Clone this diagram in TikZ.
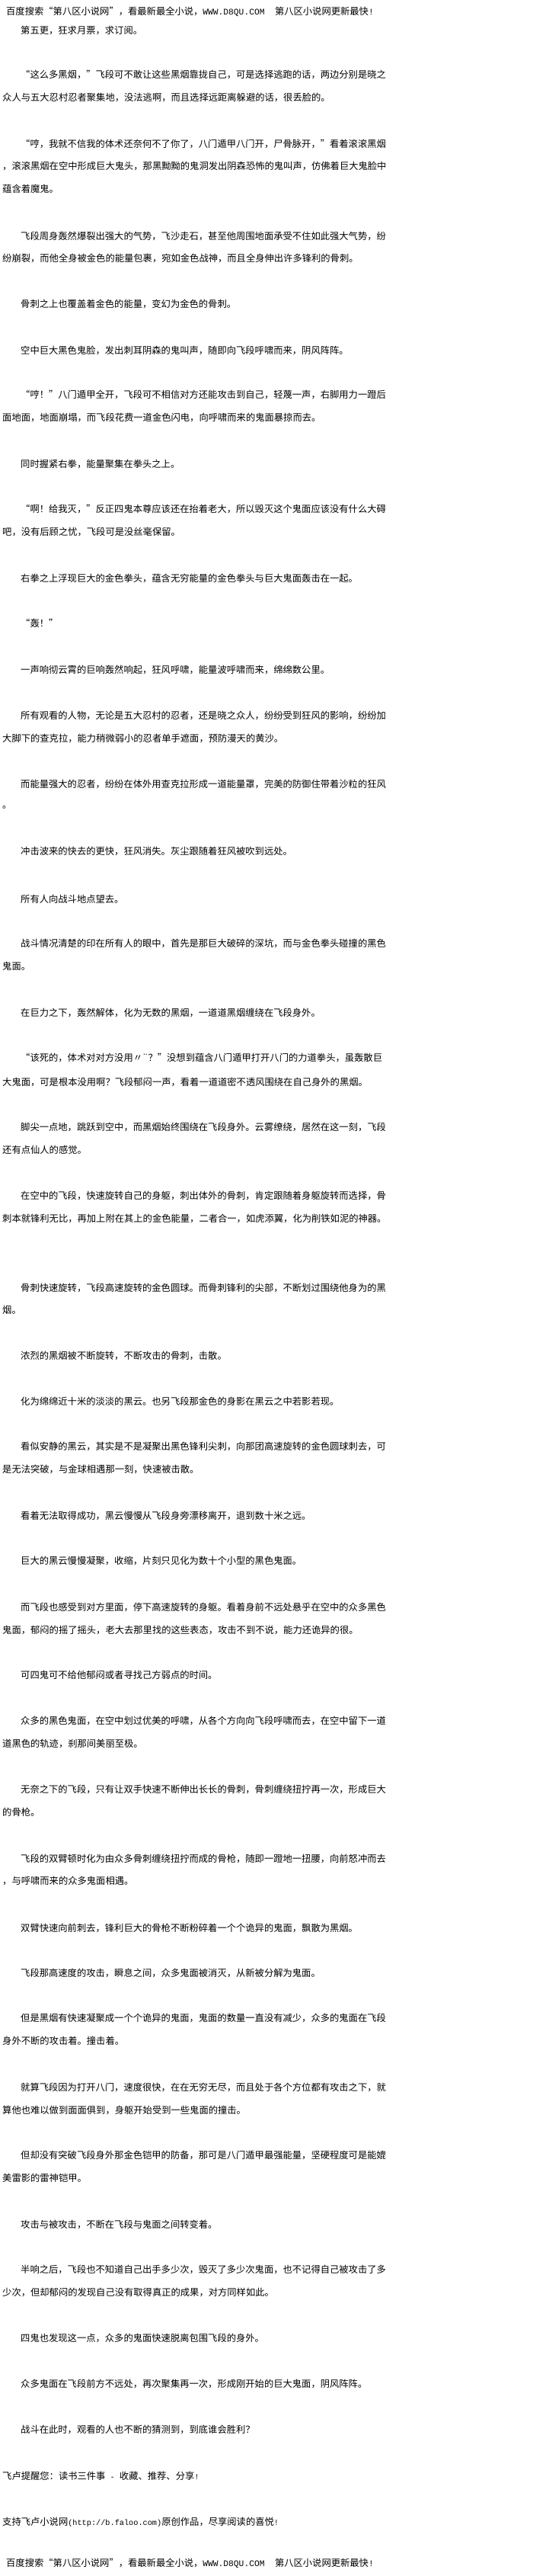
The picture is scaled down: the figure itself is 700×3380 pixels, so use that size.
\documentclass[tikz,border=0pt]{standalone}
\usepackage{fontspec}
\newfontfamily\cjkfont{Noto Sans CJK SC}
\newfontfamily\ascfont{Liberation Mono}
\newcommand{\ascbig}[1]{{\ascfont\fontsize{11.25}{14}\selectfont #1}}
\newcommand{\ascsmall}[1]{{\ascfont\fontsize{10.25}{14}\selectfont #1}}

\begin{document}
\begin{tikzpicture}[x=1pt, y=-1pt,
	txt/.style = { anchor=west, inner sep=0pt, text=black,
	font=\cjkfont\fontsize{12.3}{14}\selectfont } ]

  \useasboundingbox [fill=white] (0,0) rectangle (700,3380);

  \node [name=head, txt] at (8,15) {百度搜索“第八区小说网”，看最新最全小说，\ascbig{WWW.D8QU.COM\ \ }第八区小说网更新最快\ascbig{!}};
  \node [name=title, txt] at (27,40) {第五更，狂求月票，求订阅。};

  \node [name=l1, txt] at (27,98) {“这么多黑烟，”飞段可不敢让这些黑烟靠拢自己，可是选择逃跑的话，两边分别是晓之};
  \node [name=l2, txt] at (3,128) {众人与五大忍村忍者聚集地，没法逃啊，而且选择远距离躲避的话，很丢脸的。};
  \node [name=l3, txt] at (27,189) {“哼，我就不信我的体术还奈何不了你了，八门遁甲八门开，尸骨脉开，”看着滚滚黑烟};
  \node [name=l4, txt] at (3,218) {，滚滚黑烟在空中形成巨大鬼头，那黑黝黝的鬼洞发出阴森恐怖的鬼叫声，仿佛着巨大鬼脸中};
  \node [name=l5, txt] at (3,248) {蕴含着魔鬼。};
  \node [name=l6, txt] at (27,310) {飞段周身轰然爆裂出强大的气势，飞沙走石，甚至他周围地面承受不住如此强大气势，纷};
  \node [name=l7, txt] at (3,339) {纷崩裂，而他全身被金色的能量包裹，宛如金色战神，而且全身伸出许多锋利的骨刺。};
  \node [name=l8, txt] at (27,399) {骨刺之上也覆盖着金色的能量，变幻为金色的骨刺。};
  \node [name=l9, txt] at (27,460) {空中巨大黑色鬼脸，发出刺耳阴森的鬼叫声，随即向飞段呼啸而来，阴风阵阵。};
  \node [name=l10, txt] at (27,518) {“哼！”八门遁甲全开，飞段可不相信对方还能攻击到自己，轻蔑一声，右脚用力一蹬后};
  \node [name=l11, txt] at (3,548) {面地面，地面崩塌，而飞段花费一道金色闪电，向呼啸而来的鬼面暴掠而去。};
  \node [name=l12, txt] at (27,609) {同时握紧右拳，能量聚集在拳头之上。};
  \node [name=l13, txt] at (27,668) {“啊！给我灭，”反正四鬼本尊应该还在抬着老大，所以毁灭这个鬼面应该没有什么大碍};
  \node [name=l14, txt] at (3,698) {吧，没有后顾之忧，飞段可是没丝毫保留。};
  \node [name=l15, txt] at (27,759) {右拳之上浮现巨大的金色拳头，蕴含无穷能量的金色拳头与巨大鬼面轰击在一起。};
  \node [name=l16, txt] at (27,818) {“轰！”};
  \node [name=l17, txt] at (27,879) {一声响彻云霄的巨响轰然响起，狂风呼啸，能量波呼啸而来，绵绵数公里。};
  \node [name=l18, txt] at (27,939) {所有观看的人物，无论是五大忍村的忍者，还是晓之众人，纷纷受到狂风的影响，纷纷加};
  \node [name=l19, txt] at (3,969) {大脚下的查克拉，能力稍微弱小的忍者单手遮面，预防漫天的黄沙。};
  \node [name=l20, txt] at (27,1029) {而能量强大的忍者，纷纷在体外用查克拉形成一道能量罩，完美的防御住带着沙粒的狂风};
  \node [name=l21, txt] at (3,1059) {。};
  \node [name=l22, txt] at (27,1117) {冲击波来的快去的更快，狂风消失。灰尘跟随着狂风被吹到远处。};
  \node [name=l23, txt] at (27,1180) {所有人向战斗地点望去。};
  \node [name=l24, txt] at (27,1238) {战斗情况清楚的印在所有人的眼中，首先是那巨大破碎的深坑，而与金色拳头碰撞的黑色};
  \node [name=l25, txt] at (3,1268) {鬼面。};
  \node [name=l26, txt] at (27,1329) {在巨力之下，轰然解体，化为无数的黑烟，一道道黑烟缠绕在飞段身外。};
  \node [name=l27, txt] at (27,1388) {“该死的，体术对对方没用〃¨？”没想到蕴含八门遁甲打开八门的力道拳头，虽轰散巨};
  \node [name=l28, txt] at (3,1420) {大鬼面，可是根本没用啊？飞段郁闷一声，看着一道道密不透风围绕在自己身外的黑烟。};
  \node [name=l29, txt] at (27,1479) {脚尖一点地，跳跃到空中，而黑烟始终围绕在飞段身外。云雾缭绕，居然在这一刻，飞段};
  \node [name=l30, txt] at (3,1509) {还有点仙人的感觉。};
  \node [name=l31, txt] at (27,1569) {在空中的飞段，快速旋转自己的身躯，刺出体外的骨刺，肯定跟随着身躯旋转而选择，骨};
  \node [name=l32, txt] at (3,1599) {刺本就锋利无比，再加上附在其上的金色能量，二者合一，如虎添翼，化为削铁如泥的神器。};
  \node [name=l33, txt] at (27,1690) {骨刺快速旋转，飞段高速旋转的金色圆球。而骨刺锋利的尖部，不断划过围绕他身为的黑};
  \node [name=l34, txt] at (3,1719) {烟。};
  \node [name=l35, txt] at (27,1779) {浓烈的黑烟被不断旋转，不断攻击的骨刺，击散。};
  \node [name=l36, txt] at (27,1839) {化为绵绵近十米的淡淡的黑云。也另飞段那金色的身影在黑云之中若影若现。};
  \node [name=l37, txt] at (27,1898) {看似安静的黑云，其实是不是凝聚出黑色锋利尖刺，向那团高速旋转的金色圆球刺去，可};
  \node [name=l38, txt] at (3,1928) {是无法突破，与金球相遇那一刻，快速被击散。};
  \node [name=l39, txt] at (27,1989) {看着无法取得成功，黑云慢慢从飞段身旁漂移离开，退到数十米之远。};
  \node [name=l40, txt] at (27,2048) {巨大的黑云慢慢凝聚，收缩，片刻只见化为数十个小型的黑色鬼面。};
  \node [name=l41, txt] at (27,2109) {而飞段也感受到对方里面，停下高速旋转的身躯。看着身前不远处悬乎在空中的众多黑色};
  \node [name=l42, txt] at (3,2139) {鬼面，郁闷的摇了摇头，老大去那里找的这些表态，攻击不到不说，能力还诡异的很。};
  \node [name=l43, txt] at (27,2198) {可四鬼可不给他郁闷或者寻找己方弱点的时间。};
  \node [name=l44, txt] at (27,2258) {众多的黑色鬼面，在空中划过优美的呼啸，从各个方向向飞段呼啸而去，在空中留下一道};
  \node [name=l45, txt] at (3,2288) {道黑色的轨迹，刹那间美丽至极。};
  \node [name=l46, txt] at (27,2348) {无奈之下的飞段，只有让双手快速不断伸出长长的骨刺，骨刺缠绕扭拧再一次，形成巨大};
  \node [name=l47, txt] at (3,2378) {的骨枪。};
  \node [name=l48, txt] at (27,2439) {飞段的双臂顿时化为由众多骨刺缠绕扭拧而成的骨枪，随即一蹬地一扭腰，向前怒冲而去};
  \node [name=l49, txt] at (3,2468) {，与呼啸而来的众多鬼面相遇。};
  \node [name=l50, txt] at (27,2530) {双臂快速向前刺去，锋利巨大的骨枪不断粉碎着一个个诡异的鬼面，飘散为黑烟。};
  \node [name=l51, txt] at (27,2589) {飞段那高速度的攻击，瞬息之间，众多鬼面被消灭，从新被分解为鬼面。};
  \node [name=l52, txt] at (27,2648) {但是黑烟有快速凝聚成一个个诡异的鬼面，鬼面的数量一直没有减少，众多的鬼面在飞段};
  \node [name=l53, txt] at (3,2678) {身外不断的攻击着。撞击着。};
  \node [name=l54, txt] at (27,2739) {就算飞段因为打开八门，速度很快，在在无穷无尽，而且处于各个方位都有攻击之下，就};
  \node [name=l55, txt] at (3,2769) {算他也难以做到面面俱到，身躯开始受到一些鬼面的撞击。};
  \node [name=l56, txt] at (27,2828) {但却没有突破飞段身外那金色铠甲的防备，那可是八门遁甲最强能量，坚硬程度可是能媲};
  \node [name=l57, txt] at (3,2858) {美雷影的雷神铠甲。};
  \node [name=l58, txt] at (27,2919) {攻击与被攻击，不断在飞段与鬼面之间转变着。};
  \node [name=l59, txt] at (27,2978) {半响之后，飞段也不知道自己出手多少次，毁灭了多少次鬼面，也不记得自己被攻击了多};
  \node [name=l60, txt] at (3,3008) {少次，但却郁闷的发现自己没有取得真正的成果，对方同样如此。};
  \node [name=l61, txt] at (27,3068) {四鬼也发现这一点，众多的鬼面快速脱离包围飞段的身外。};
  \node [name=l62, txt] at (27,3128) {众多鬼面在飞段前方不远处，再次聚集再一次，形成刚开始的巨大鬼面，阴风阵阵。};
  \node [name=l63, txt] at (27,3188) {战斗在此时，观看的人也不断的猜测到，到底谁会胜利？};

  \node [name=note, txt] at (3,3249) {飞卢提醒您：读书三件事\ascsmall{ - }收藏、推荐、分享\ascsmall{!}};
  \node [name=faloo, txt] at (3,3309) {支持飞卢小说网\ascsmall{(http://b.faloo.com)}原创作品，尽享阅读的喜悦\ascsmall{!}};
  \node [name=foot, txt] at (8,3363) {百度搜索“第八区小说网”，看最新最全小说，\ascbig{WWW.D8QU.COM\ \ }第八区小说网更新最快\ascbig{!}};
\end{tikzpicture}
\end{document}
